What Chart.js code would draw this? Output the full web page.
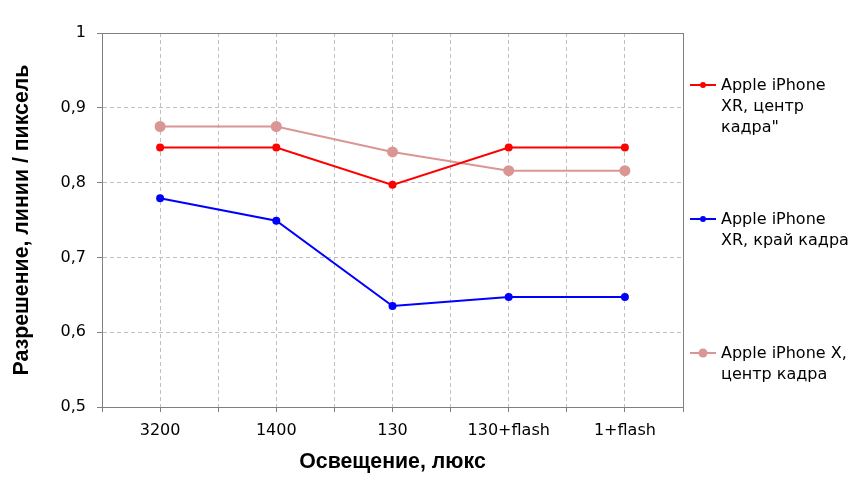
<!DOCTYPE html>
<html>
<head>
<meta charset="utf-8">
<script src="https://cdn.jsdelivr.net/npm/chart.js@4"></script>
<style>
  html, body { margin: 0; padding: 0; background: #fff; }
  #wrap { width: 863px; height: 493px; }
</style>
</head>
<body>
<div id="wrap"><canvas id="chart"></canvas></div>
<script>
const categories = ['3200', '1400', '130', '130+flash', '1+flash'];
const xrCenter = [0.847, 0.847, 0.797, 0.847, 0.847];
const xrEdge = [0.779, 0.749, 0.635, 0.647, 0.647];
const xCenter = [0.875, 0.875, 0.841, 0.816, 0.816];
const yTicks = [0.5, 0.6, 0.7, 0.8, 0.9, 1];

const legendLabels = [
    ['Apple iPhone', 'XR, центр', 'кадра"'],
    ['Apple iPhone', 'XR, край кадра'],
    ['Apple iPhone X,', 'центр кадра']
];
const legendY = [85, 219, 353];

const toPoints = arr => arr.map((v, i) => ({ x: i, y: v }));
const gridColor = '#c0c0c0';
const axisColor = '#808080';
const tickFont = { family: 'DejaVu Sans', size: 16 };
const titleFont = { family: 'Liberation Sans', size: 21.3, weight: 'bold' };

const frameAndLegend = {
    id: 'frameAndLegend',
    afterDraw(chart) {
        const { ctx, chartArea: a } = chart;
        ctx.save();
        ctx.strokeStyle = axisColor;
        ctx.lineWidth = 1;
        ctx.strokeRect(Math.round(a.left) + 0.5, Math.round(a.top) + 0.5,
            Math.round(a.right - a.left), Math.round(a.bottom - a.top));

        ctx.font = '16px "DejaVu Sans"';
        ctx.textBaseline = 'middle';
        ctx.textAlign = 'left';
        chart.data.datasets.forEach((ds, i) => {
            const y = legendY[i];
            ctx.strokeStyle = ds.borderColor;
            ctx.lineWidth = 2;
            ctx.beginPath();
            ctx.moveTo(690, y);
            ctx.lineTo(716, y);
            ctx.stroke();
            ctx.fillStyle = ds.borderColor;
            ctx.beginPath();
            ctx.arc(703, y, ds.pointRadius, 0, Math.PI * 2);
            ctx.fill();
            ctx.fillStyle = '#000';
            legendLabels[i].forEach((line, j) => ctx.fillText(line, 721, y + 1 + j * 21));
        });
        ctx.restore();
    }
};

new Chart(document.getElementById('chart'), {
    type: 'line',
    data: {
        datasets: [
            { label: legendLabels[0].join(' '), data: toPoints(xrCenter), borderColor: '#ff0000', backgroundColor: '#ff0000', borderWidth: 2, pointRadius: 3 },
            { label: legendLabels[1].join(' '), data: toPoints(xrEdge), borderColor: '#0000ff', backgroundColor: '#0000ff', borderWidth: 2, pointRadius: 3 },
            { label: legendLabels[2].join(' '), data: toPoints(xCenter), borderColor: '#da9694', backgroundColor: '#da9694', borderWidth: 2, pointRadius: 4.5 }
        ]
    },
    options: {
        responsive: true, maintainAspectRatio: false, animation: false,
        layout: { padding: { top: 33, right: 180, bottom: 0, left: 0 } },
        plugins: { legend: { display: false }, tooltip: { enabled: false } },
        scales: {
            x: {
                type: 'linear', min: -0.5, max: 4.5,
                afterFit: s => { s.height = 86; },
                grid: { color: gridColor, tickColor: axisColor, tickLength: 5 },
                border: { dash: [4, 3], color: axisColor },
                ticks: {
                    stepSize: 0.5, autoSkip: false, maxRotation: 0, minRotation: 0,
                    padding: 9, color: '#000', font: tickFont,
                    callback: v => Number.isInteger(v) ? categories[v] : ''
                },
                title: { display: true, text: 'Освещение, люкс', color: '#000', padding: { top: 0, bottom: 18 }, font: titleFont }
            },
            y: {
                min: 0.5, max: 1,
                afterFit: s => { s.width = 102; },
                afterBuildTicks: s => { s.ticks = yTicks.map(v => ({ value: v })); },
                grid: { color: gridColor, tickColor: axisColor, tickLength: 5 },
                border: { dash: [4, 3], color: axisColor },
                ticks: {
                    padding: 11, color: '#000', font: tickFont,
                    callback: v => v === 1 ? '1' : v.toFixed(1).replace('.', ',')
                },
                title: { display: true, text: 'Разрешение, линии / пиксель', color: '#000', padding: { top: 9, bottom: 0 }, font: titleFont }
            }
        }
    },
    plugins: [frameAndLegend]
});
</script>
</body>
</html>
